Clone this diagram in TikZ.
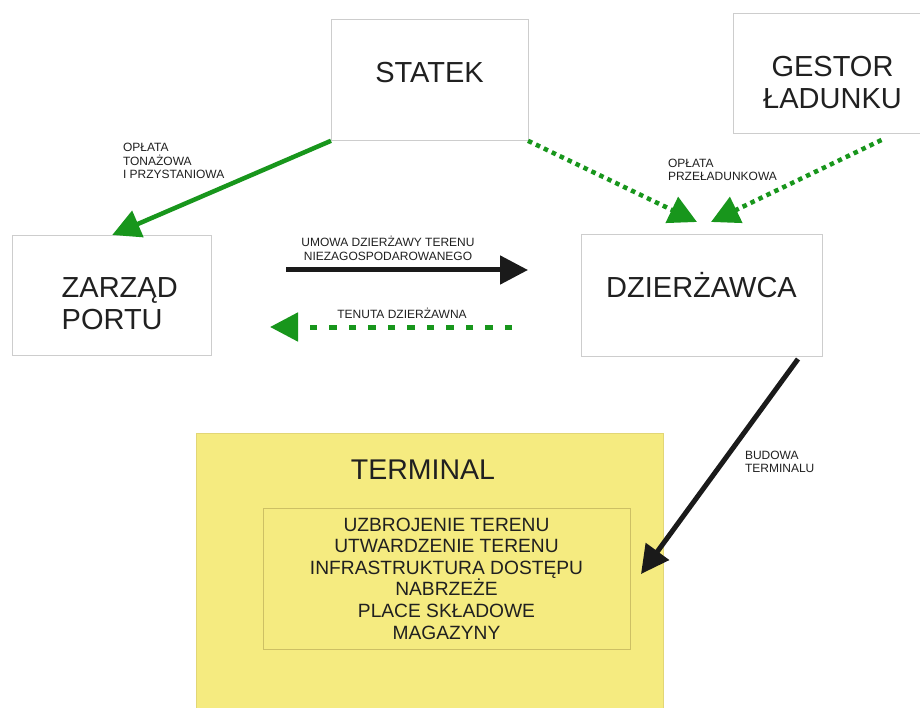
\documentclass[tikz,border=0pt]{standalone}
\usepackage{fontspec}
\setmainfont{Liberation Sans}
\usetikzlibrary{arrows.meta}
\definecolor{ramka}{RGB}{205,205,205}
\definecolor{zielony}{RGB}{24,150,28}
\definecolor{czarny}{RGB}{26,26,26}
\definecolor{tekst}{RGB}{32,32,32}
\definecolor{zolty}{RGB}{245,235,128}
\definecolor{zoltaramka}{RGB}{226,214,118}
\definecolor{zakresramka}{RGB}{205,192,100}
\begin{document}
\begin{tikzpicture}[x=1pt,y=-1pt]
	\tikzstyle{every node}+=[inner sep=0pt, outer sep=0pt, text=tekst]
	\tikzstyle{box}=[draw=ramka, line width=0.9pt, font=\fontsize{29}{32}\selectfont]
	\tikzstyle{opis}=[font=\fontsize{12}{13.5}\selectfont]
	\tikzstyle{grot}=[-{Triangle[length=28pt,width=28pt]}]
	\path [fill=white, use as bounding box] (0,0) rectangle (920,708);
	\node [box, minimum width=197pt, minimum height=121pt, text height=21pt, text depth=16pt] (statek) at (429.5,80.3) {STATEK};
	\node [box, minimum width=199pt, minimum height=120pt, align=center] (gestor) at (832.5,73) {\rule{0pt}{39pt}GESTOR\\ŁADUNKU};
	\node [box, minimum width=199pt, minimum height=120pt, align=left] (zarzad) at (112.2,295) {\hspace*{15pt}\rule{0pt}{37pt}ZARZĄD\\\hspace*{15pt}PORTU};
	\node [box, minimum width=241pt, minimum height=122pt, text height=21pt, text depth=16pt] (dzierzawca) at (701.5,295) {DZIERŻAWCA};
	\node [draw=zoltaramka, fill=zolty, line width=0.8pt, minimum width=467pt, minimum height=282pt] (terminal) at (429.5,574) {};
	\node [font=\fontsize{28.5}{32}\selectfont] (terminalnapis) at ([xshift=-6.5pt,yshift=-37pt]terminal.north) {TERMINAL};
	\node [draw=zakresramka, line width=0.6pt, minimum width=367pt, minimum height=141pt, align=center, font=\fontsize{19.2}{21.6}\selectfont] (zakres) at (446.5,578.5) {UZBROJENIE TERENU\\UTWARDZENIE TERENU\\INFRASTRUKTURA DOSTĘPU\\NABRZEŻE\\PLACE SKŁADOWE\\MAGAZYNY};
	\draw [zielony, line width=4.5pt, grot] (statek.south west) -- (zarzad.north);
	\draw [zielony, line width=4.5pt, dash pattern=on 4.5pt off 4.3pt, grot] (statek.south east) -- ([xshift=-4.5pt,yshift=12pt]dzierzawca.north);
	\draw [zielony, line width=4.5pt, dash pattern=on 4.5pt off 4.3pt, grot] ([xshift=49pt,yshift=-7pt]gestor.south) -- ([xshift=9.5pt,yshift=12pt]dzierzawca.north);
	\draw [czarny, line width=5pt, grot] ([xshift=74.3pt,yshift=25pt]zarzad.east) -- ([xshift=-53pt,yshift=25pt]dzierzawca.west);
	\draw [zielony, line width=5pt, dash pattern=on 7.5pt off 12pt, grot] ([xshift=-69pt,yshift=-32pt]dzierzawca.west) -- ([xshift=58.3pt,yshift=-32pt]zarzad.east);
	\draw [czarny, line width=5pt, grot] ([xshift=-24pt,yshift=-3pt]dzierzawca.south east) -- ([xshift=-22pt]terminal.east);
	\node [opis, align=left, anchor=west] (oplatatonazowa) at (123,161) {OPŁATA\\TONAŻOWA\\I PRZYSTANIOWA};
	\node [opis, align=center] (umowa) at (388,248.5) {UMOWA DZIERŻAWY TERENU\\NIEZAGOSPODAROWANEGO};
	\node [opis] (tenuta) at (402,313) {TENUTA DZIERŻAWNA};
	\node [opis, align=left, anchor=west] (oplataprzeladunkowa) at (668,170) {OPŁATA\\PRZEŁADUNKOWA};
	\node [opis, align=left, anchor=west] (budowa) at (745,462) {BUDOWA\\TERMINALU};
\end{tikzpicture}
\end{document}
